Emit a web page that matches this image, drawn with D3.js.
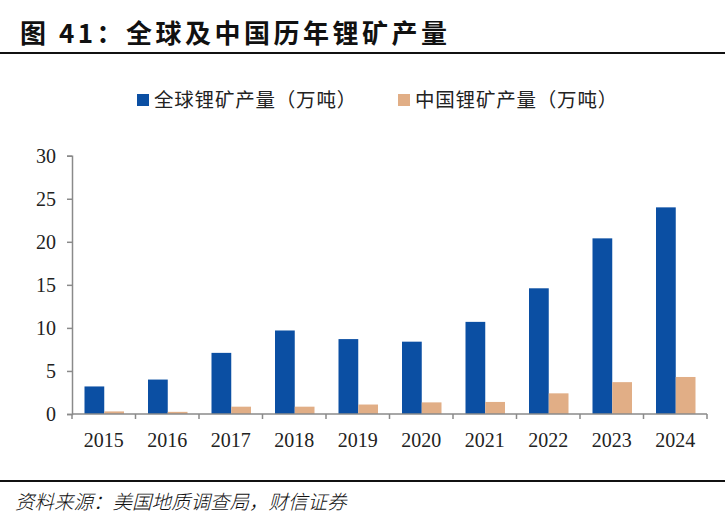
<!DOCTYPE html>
<html>
<head>
<meta charset="utf-8">
<script src="https://cdn.jsdelivr.net/npm/d3@7"></script>
<style>
  body { margin: 0; background: #fff; }
  svg { display: block; }
</style>
</head>
<body>
<svg id="chart" width="725" height="527"></svg>
<script>
const years = ['2015', '2016', '2017', '2018', '2019', '2020', '2021', '2022', '2023', '2024'];
const global_output = [3.2, 4.0, 7.1, 9.7, 8.7, 8.4, 10.7, 14.6, 20.4, 24.0];
const china_output = [0.3, 0.25, 0.85, 0.85, 1.1, 1.35, 1.4, 2.4, 3.7, 4.3];
const series_names = ['全球锂矿产量（万吨）', '中国锂矿产量（万吨）'];
const y_ticks = [0, 5, 10, 15, 20, 25, 30];

const colors = ['#0b4fa3', '#e1ae86'];
const cjk = '"Noto Sans CJK SC", "Noto Sans", sans-serif';
const serif = '"Liberation Serif", "DejaVu Serif", serif';

const svg = d3.select('#chart');

// title
svg.append('text')
  .attr('x', 20).attr('y', 43)
  .attr('font-family', cjk).attr('font-weight', 700)
  .attr('font-size', 26).attr('letter-spacing', 3.5)
  .attr('fill', '#111')
  .text('图 41：全球及中国历年锂矿产量');
svg.append('line')
  .attr('x1', 0).attr('x2', 725).attr('y1', 53).attr('y2', 53)
  .attr('stroke', '#111').attr('stroke-width', 2.2);

// legend
const legend_x = [137, 398];
series_names.forEach(function(name, i) {
  let g = svg.append('g').attr('transform', 'translate(' + legend_x[i] + ',94)');
  g.append('rect').attr('width', 12).attr('height', 12).attr('fill', colors[i]);
  g.append('text')
    .attr('x', 17).attr('y', 13)
    .attr('font-family', cjk).attr('font-size', 19.5).attr('letter-spacing', 0.8)
    .attr('fill', '#222')
    .text(name);
});

// plot area
const plot_left = 72, plot_right = 707, plot_top = 155.7, plot_bottom = 414;

const x = d3.scaleBand().domain(years).range([plot_left, plot_right]).paddingInner(0).paddingOuter(0);
const x_inner = d3.scaleBand().domain([0, 1]).range([12.5, x.bandwidth() - 11.5]).padding(0);
const y = d3.scaleLinear().domain([0, 30]).range([plot_bottom, plot_top]);

const groups = svg.append('g').selectAll('g')
  .data(years)
  .join('g')
  .attr('transform', function(d) { return 'translate(' + x(d) + ',0)'; });

groups.append('rect')
  .attr('x', x_inner(0))
  .attr('width', x_inner.bandwidth())
  .attr('y', function(d, i) { return y(global_output[i]); })
  .attr('height', function(d, i) { return plot_bottom - y(global_output[i]); })
  .attr('fill', colors[0]);

groups.append('rect')
  .attr('x', x_inner(1))
  .attr('width', x_inner.bandwidth())
  .attr('y', function(d, i) { return y(china_output[i]); })
  .attr('height', function(d, i) { return plot_bottom - y(china_output[i]); })
  .attr('fill', colors[1]);

// y axis
const y_axis = svg.append('g')
  .attr('transform', 'translate(' + plot_left + ',0)')
  .call(d3.axisLeft(y).tickValues(y_ticks).tickSize(5).tickPadding(11).tickFormat(d3.format('d')));
y_axis.select('.domain').attr('stroke', '#8a8a8a').attr('stroke-width', 1.5);
y_axis.selectAll('.tick line').attr('stroke', '#8a8a8a').attr('stroke-width', 1.5);
y_axis.selectAll('.tick text')
  .attr('font-family', serif).attr('font-size', 20).attr('fill', '#222');

// x axis, ticks sit on band edges
const x_axis = svg.append('g')
  .attr('transform', 'translate(0,' + plot_bottom + ')');
x_axis.append('line')
  .attr('x1', plot_left).attr('x2', plot_right)
  .attr('stroke', '#8a8a8a').attr('stroke-width', 1.5);
x_axis.selectAll('.edge')
  .data(years.concat(['end']))
  .join('line')
  .attr('class', 'edge')
  .attr('x1', function(d, i) { return plot_left + i * x.bandwidth(); })
  .attr('x2', function(d, i) { return plot_left + i * x.bandwidth(); })
  .attr('y1', 0).attr('y2', 5)
  .attr('stroke', '#8a8a8a').attr('stroke-width', 1.5);
x_axis.selectAll('.lbl')
  .data(years)
  .join('text')
  .attr('class', 'lbl')
  .attr('x', function(d) { return x(d) + x.bandwidth() / 2; })
  .attr('y', 33)
  .attr('text-anchor', 'middle')
  .attr('font-family', serif).attr('font-size', 20).attr('fill', '#222')
  .text(function(d) { return d; });

// footer
svg.append('line')
  .attr('x1', 0).attr('x2', 725).attr('y1', 481).attr('y2', 481)
  .attr('stroke', '#111').attr('stroke-width', 2.2);
svg.append('text')
  .attr('x', 15).attr('y', 509)
  .attr('font-family', cjk).attr('font-size', 19.5).attr('font-style', 'italic')
  .attr('font-weight', 300)
  .attr('fill', '#111')
  .text('资料来源：美国地质调查局，财信证券');
</script>
</body>
</html>
